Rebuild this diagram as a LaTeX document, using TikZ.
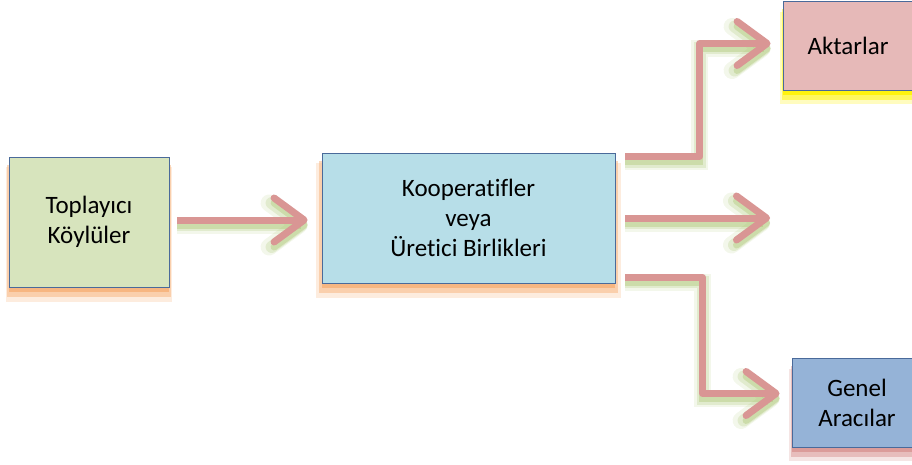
\documentclass[tikz,border=0pt]{standalone}
\usepackage{fontspec}
\setmainfont{Carlito}[Ligatures=NoCommon]
\usetikzlibrary{arrows.meta,shadows}

\definecolor{boxline}{HTML}{4A6A9A}
\definecolor{greenfill}{HTML}{D7E4BD}
\definecolor{bluefill}{HTML}{B7DEE8}
\definecolor{pinkfill}{HTML}{E6B9B8}
\definecolor{navyfill}{HTML}{95B3D7}
\definecolor{flowpink}{HTML}{D99694}
\definecolor{glowgreen}{HTML}{9BBB59}
\definecolor{glowrange}{HTML}{F7B27A}

\tikzset{
  box/.style={draw=boxline,line width=0.8pt,align=center,inner sep=0pt,
    font=\fontsize{25}{30}\selectfont},
  glow/.style={general shadow={fill=#1,opacity=.25,shadow yshift=-12pt,shadow scale=1.04},
    general shadow={fill=#1,opacity=.5,shadow yshift=-9pt,shadow scale=1.02},
    general shadow={fill=#1,opacity=.85,shadow yshift=-5pt}},
  flow/.style={draw=flowpink,line width=7pt,line join=round,
    -{Straight Barb[length=30pt,width=44pt,round]},
    preaction={draw=glowgreen,opacity=.12,line width=17pt,transform canvas={yshift=-5pt}},
    preaction={draw=glowgreen,opacity=.2,line width=12pt,transform canvas={yshift=-5pt}},
    preaction={draw=glowgreen,opacity=.3,line width=7pt,transform canvas={yshift=-5pt}}}
}

\begin{document}
\begin{tikzpicture}[x=1pt,y=-1pt]
\useasboundingbox (0,0) rectangle (912,465);

% boxes
\node[box,fill=greenfill,minimum width=160pt,minimum height=130pt,glow=glowrange] (koy) at (89,222) {Toplayıcı\\Köylüler};
\node[box,fill=bluefill,minimum width=293pt,minimum height=130pt,glow=glowrange] (koop) at (468.5,218) {Kooperatifler\\veya\\Üretici Birlikleri};
\node[box,fill=pinkfill,minimum width=130pt,minimum height=89pt,glow=yellow] (akt) at (848,45.5) {Aktarlar};
\node[box,fill=navyfill,minimum width=130pt,minimum height=89pt,glow=flowpink] (gen) at (857,402.5) {Genel\\Aracılar};

\coordinate (uc) at (770,218);

% arrows
\draw[flow] ([xshift=8pt,yshift=2pt]koy.east) -- ([xshift=-14pt,yshift=-2pt]koop.west);
\draw[flow] ([xshift=10pt,yshift=-4pt]koop.north east) -| ([xshift=-83pt,yshift=2pt]akt.west) -- ([xshift=-12pt,yshift=2pt]akt.west);
\draw[flow] ([xshift=10pt]koop.east) -- (uc);
\draw[flow] ([xshift=10pt,yshift=6pt]koop.south east) -| ([xshift=-89pt,yshift=9pt]gen.west) -- ([xshift=-12pt,yshift=9pt]gen.west);

\end{tikzpicture}
\end{document}
